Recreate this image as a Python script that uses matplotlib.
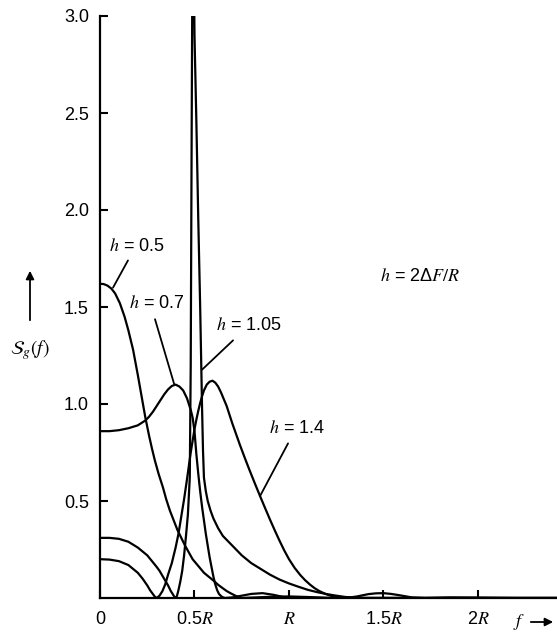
import matplotlib
matplotlib.use("Agg")
import matplotlib.pyplot as plt
from matplotlib.patches import FancyArrowPatch

plt.rcParams['font.family'] = ['Liberation Sans', 'DejaVu Sans']

# spectral density of binary CPFSK, frequency in units of the bit rate R
h05_f = [0, 0.02, 0.04, 0.06, 0.08, 0.105, 0.13, 0.15, 0.175, 0.20, 0.22, 0.24,
         0.26, 0.275, 0.29, 0.31, 0.333, 0.35, 0.37, 0.39, 0.41, 0.43, 0.45, 0.47,
         0.49, 0.52, 0.55, 0.575, 0.60, 0.625, 0.65, 0.67, 0.69, 0.72, 0.75, 0.80,
         0.85, 0.90, 1.0, 1.1, 1.2, 1.4, 2.42]
h05_s = [1.62, 1.618, 1.61, 1.595, 1.57, 1.52, 1.45, 1.38, 1.28, 1.15, 1.04, 0.93,
         0.835, 0.77, 0.71, 0.64, 0.57, 0.51, 0.45, 0.40, 0.35, 0.31, 0.27, 0.235,
         0.20, 0.165, 0.13, 0.11, 0.09, 0.068, 0.05, 0.036, 0.025, 0.01, 0.0, 0.002,
         0.004, 0.006, 0.008, 0.005, 0.001, 0.0, 0.0]

h07_f = [0, 0.05, 0.10, 0.15, 0.20, 0.24, 0.26, 0.28, 0.30, 0.32, 0.34, 0.36,
         0.38, 0.40, 0.42, 0.44, 0.46, 0.47, 0.48, 0.49, 0.50, 0.51, 0.52, 0.53,
         0.54, 0.55, 0.56, 0.57, 0.58, 0.59, 0.60, 0.61, 0.62, 0.63, 0.645, 0.66,
         0.70, 0.75, 0.80, 0.86, 0.92, 0.97, 1.0, 1.1, 1.2, 2.42]
h07_s = [0.86, 0.86, 0.865, 0.875, 0.89, 0.915, 0.935, 0.96, 0.99, 1.02, 1.05, 1.075,
         1.093, 1.10, 1.09, 1.07, 1.03, 1.0, 0.97, 0.93, 0.86, 0.74, 0.64, 0.55,
         0.47, 0.40, 0.33, 0.27, 0.21, 0.16, 0.11, 0.07, 0.04, 0.02, 0.006, 0.0,
         0.003, 0.012, 0.021, 0.025, 0.016, 0.005, 0.0, 0.002, 0.0, 0.0]

h105_f = [0, 0.05, 0.10, 0.15, 0.20, 0.225, 0.25, 0.275, 0.30, 0.315, 0.33, 0.345,
          0.36, 0.375, 0.385, 0.393, 0.40, 0.407, 0.415, 0.425, 0.435, 0.445, 0.455,
          0.465, 0.475, 0.48, 0.485, 0.49, 0.495, 0.50, 0.51, 0.52, 0.53, 0.54,
          0.545, 0.55, 0.56, 0.57, 0.585, 0.60, 0.625, 0.65, 0.675, 0.70, 0.75,
          0.80, 0.85, 0.90, 0.95, 1.0, 1.05, 1.10, 1.15, 1.20, 1.25, 1.30, 1.35,
          1.40, 2.42]
h105_s = [0.31, 0.31, 0.305, 0.29, 0.26, 0.24, 0.22, 0.19, 0.16, 0.14, 0.115, 0.09,
          0.065, 0.035, 0.02, 0.007, 0.0, 0.01, 0.04, 0.085, 0.14, 0.22, 0.32,
          0.43, 0.62, 1.2, 2.4, 3.5, 3.4, 2.9, 2.45, 1.95, 1.5, 0.98,
          0.76, 0.62, 0.55, 0.50, 0.45, 0.41, 0.36, 0.32, 0.295, 0.27, 0.22,
          0.18, 0.15, 0.12, 0.095, 0.075, 0.058, 0.042, 0.03, 0.02, 0.012, 0.005, 0.002,
          0.0, 0.0]

h14_f = [0, 0.05, 0.10, 0.15, 0.20, 0.225, 0.25, 0.265, 0.28, 0.29, 0.30, 0.315,
         0.33, 0.345, 0.36, 0.38, 0.40, 0.415, 0.43, 0.445, 0.46, 0.48, 0.50, 0.51,
         0.52, 0.53, 0.54, 0.55, 0.565, 0.58, 0.595, 0.61, 0.625, 0.64, 0.655, 0.67,
         0.685, 0.70, 0.72, 0.74, 0.765, 0.79, 0.82, 0.85, 0.875, 0.90, 0.925, 0.95,
         0.975, 1.0, 1.03, 1.06, 1.085, 1.11, 1.135, 1.16, 1.195, 1.23, 1.265, 1.30,
         1.36, 1.42, 1.46, 1.50, 1.54, 1.58, 1.65, 1.72, 1.85, 2.0, 2.2, 2.42]
h14_s = [0.20, 0.198, 0.19, 0.17, 0.13, 0.10, 0.065, 0.04, 0.02, 0.007, 0.0, 0.012,
         0.035, 0.07, 0.12, 0.18, 0.26, 0.33, 0.42, 0.51, 0.61, 0.75, 0.87, 0.92,
         0.965, 1.005, 1.04, 1.07, 1.10, 1.115, 1.12, 1.11, 1.09, 1.06, 1.025, 0.99,
         0.945, 0.90, 0.845, 0.79, 0.725, 0.662, 0.589, 0.518, 0.46, 0.403, 0.348, 0.295,
         0.245, 0.20, 0.155, 0.118, 0.092, 0.07, 0.051, 0.036, 0.02, 0.009, 0.003, 0.0,
         0.008, 0.02, 0.024, 0.025, 0.021, 0.015, 0.003, 0.0, 0.003, 0.002, 0.0, 0.0]

y_ticks = [0.5, 1.0, 1.5, 2.0, 2.5, 3.0]
y_labels = ['0.5', '1.0', '1.5', '2.0', '2.5', '3.0']
x_ticks = [0, 0.5, 1.0, 1.5, 2.0]
x_labels = ['0', '0.5$R$', '$R$', '1.5$R$', '2$R$']

fig = plt.figure(figsize=(5.57, 6.33), dpi=100)
ax = fig.add_axes([100 / 557, 35 / 633, 457 / 557, 582 / 633])

for f, s in [(h05_f, h05_s), (h07_f, h07_s), (h105_f, h105_s), (h14_f, h14_s)]:
    ax.plot(f, s, color='black', lw=1.6, solid_joinstyle='round')

ax.set_xlim(0, 2.418)
ax.set_ylim(0, 3.0)
for side in ['top', 'right']:
    ax.spines[side].set_visible(False)
for side in ['left', 'bottom']:
    ax.spines[side].set_linewidth(1.6)

ax.set_yticks(y_ticks)
ax.set_yticklabels(y_labels)
ax.set_xticks(x_ticks)
ax.set_xticklabels(x_labels)
for lbl in ax.get_xticklabels():
    lbl.set_math_fontfamily('stix')
ax.tick_params(direction='in', length=6, width=1.5, labelsize=13)
ax.tick_params(axis='y', pad=8)
ax.tick_params(axis='x', pad=9)

# curve labels with leader lines
notes = [
    ('$h$ = 0.5', (0.196, 1.81), (0.148, 1.74), (0.069, 1.60)),
    ('$h$ = 0.7', (0.302, 1.516), (0.291, 1.437), (0.392, 1.104)),
    ('$h$ = 1.05', (0.788, 1.406), (0.704, 1.328), (0.540, 1.177)),
    ('$h$ = 1.4', (1.042, 0.875), (0.995, 0.797), (0.847, 0.526)),
]
for text, pos, start, end in notes:
    ax.text(pos[0], pos[1], text, fontsize=13, ha='center', va='center',
            math_fontfamily='stix')
    ax.annotate('', xy=end, xytext=start,
                arrowprops=dict(arrowstyle='-', lw=1.3, color='black',
                                shrinkA=0, shrinkB=0))

ax.text(1.693, 1.656, '$h$ = 2Δ$F/R$', fontsize=13, ha='center', va='center',
        math_fontfamily='stix')

# axis names with arrows
fig.text(30 / 557, 1 - 350 / 633, r'$\mathcal{S}_g(f)$', fontsize=14,
         ha='center', va='center', math_fontfamily='stix')
fig.add_artist(FancyArrowPatch(
    (30 / 557, 1 - 323 / 633), (30 / 557, 1 - 268 / 633),
    transform=fig.transFigure, arrowstyle='-|>', mutation_scale=12,
    lw=1.3, color='black'))

fig.text(519 / 557, 1 - 622 / 633, '$f$', fontsize=13, ha='center', va='center',
         math_fontfamily='stix')
fig.add_artist(FancyArrowPatch(
    (528 / 557, 1 - 622 / 633), (556 / 557, 1 - 622 / 633),
    transform=fig.transFigure, arrowstyle='-|>', mutation_scale=12,
    lw=1.3, color='black'))

fig.savefig('out.png', dpi=100)
